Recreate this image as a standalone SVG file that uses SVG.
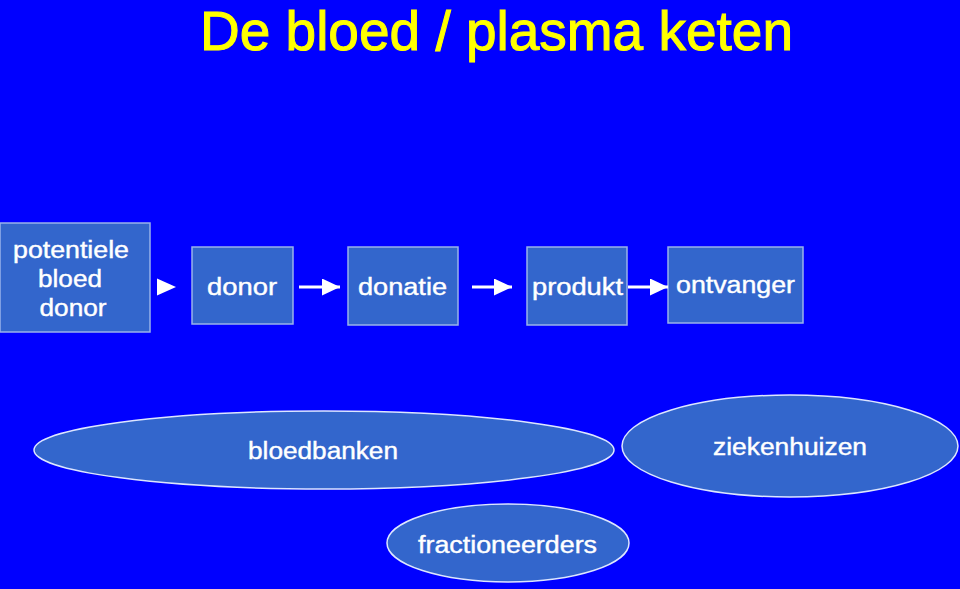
<svg xmlns="http://www.w3.org/2000/svg" width="960" height="589" viewBox="0 0 960 589">
<defs>
<style>
.bg{fill:#0000ff}
.box{fill:#3366cc;stroke:#99b3ea;stroke-width:1.5}
.ell{fill:#3366cc;stroke:#dde6ff;stroke-width:1.5}
.lbl{font-family:"Liberation Sans",Arial,sans-serif;font-size:23px;fill:#ffffff;stroke:#ffffff;stroke-width:0.4}
.title{font-family:"Liberation Sans",Arial,sans-serif;font-size:55px;fill:#ffff00;stroke:#ffff00;stroke-width:1}
.conn{stroke:#ffffff;stroke-width:3;fill:none}
.head{fill:#ffffff}
</style>
<marker id="ah" markerUnits="userSpaceOnUse" markerWidth="19" markerHeight="18" refX="18" refY="8.5" orient="auto">
<path d="M0,0 L18,8.5 L0,17 z" fill="#ffffff"/>
</marker>
</defs>
<rect class="bg" x="0" y="0" width="960" height="589"/>
<text class="title" x="200" y="50" textLength="593" lengthAdjust="spacingAndGlyphs">De bloed / plasma keten</text>

<g id="potentiele-bloed-donor">
<rect class="box" x="0" y="223" width="150" height="109"/>
<text class="lbl" x="71" y="258" text-anchor="middle" textLength="116" lengthAdjust="spacingAndGlyphs">potentiele</text>
<text class="lbl" x="70" y="287" text-anchor="middle" textLength="64" lengthAdjust="spacingAndGlyphs">bloed</text>
<text class="lbl" x="73" y="316" text-anchor="middle" textLength="67" lengthAdjust="spacingAndGlyphs">donor</text>
</g>
<g id="donor">
<rect class="box" x="192" y="247" width="101" height="77"/>
<text class="lbl" x="242" y="295" text-anchor="middle" textLength="70" lengthAdjust="spacingAndGlyphs">donor</text>
</g>
<g id="donatie">
<rect class="box" x="348" y="247" width="110" height="78"/>
<text class="lbl" x="402.5" y="295" text-anchor="middle" textLength="89" lengthAdjust="spacingAndGlyphs">donatie</text>
</g>
<g id="produkt">
<rect class="box" x="527" y="247" width="100" height="78"/>
<text class="lbl" x="577.5" y="295" text-anchor="middle" textLength="91" lengthAdjust="spacingAndGlyphs">produkt</text>
</g>
<g id="ontvanger">
<rect class="box" x="668" y="247" width="135" height="76"/>
<text class="lbl" x="735.5" y="293" text-anchor="middle" textLength="119" lengthAdjust="spacingAndGlyphs">ontvanger</text>
</g>

<g id="bloedbanken">
<ellipse class="ell" cx="324" cy="450" rx="290" ry="39"/>
<text class="lbl" x="323" y="459" text-anchor="middle" textLength="150" lengthAdjust="spacingAndGlyphs">bloedbanken</text>
</g>
<g id="ziekenhuizen">
<ellipse class="ell" cx="790" cy="446" rx="168" ry="51"/>
<text class="lbl" x="790" y="455" text-anchor="middle" textLength="154" lengthAdjust="spacingAndGlyphs">ziekenhuizen</text>
</g>
<g id="fractioneerders">
<ellipse class="ell" cx="508" cy="543" rx="121" ry="39"/>
<text class="lbl" x="507.5" y="553" text-anchor="middle" textLength="179" lengthAdjust="spacingAndGlyphs">fractioneerders</text>
</g>

<g id="connectors">
<path class="head" d="M157,278.5 L176,287 L157,295.5 z"/>
<line class="conn" x1="299" y1="287" x2="340" y2="287" marker-end="url(#ah)"/>
<line class="conn" x1="472" y1="287" x2="512" y2="287" marker-end="url(#ah)"/>
<line class="conn" x1="628" y1="287" x2="668" y2="287" marker-end="url(#ah)"/>
</g>
</svg>
